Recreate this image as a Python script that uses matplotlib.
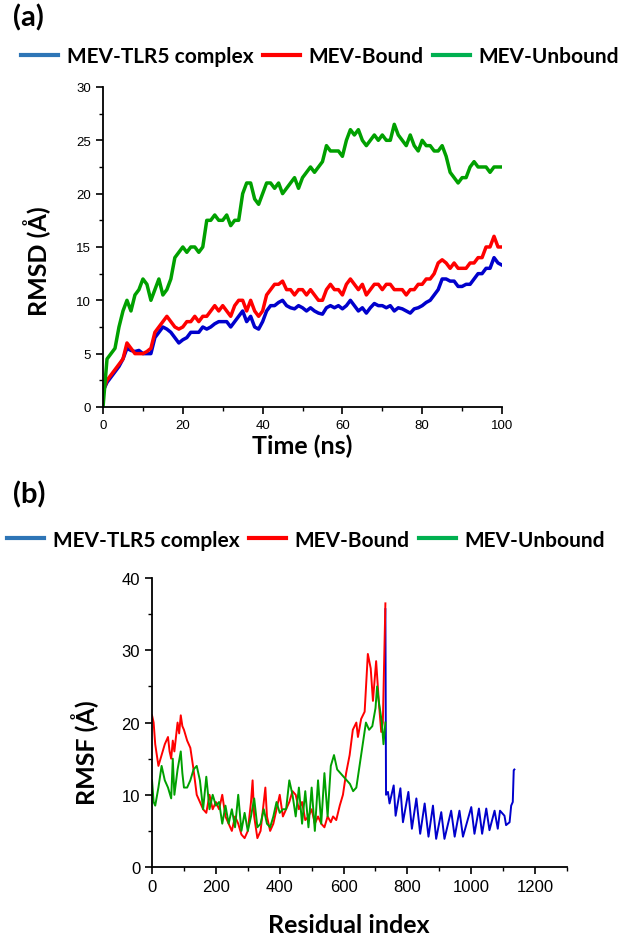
import matplotlib
matplotlib.use('Agg')
import matplotlib.pyplot as plt
from matplotlib.lines import Line2D
from matplotlib.ticker import MultipleLocator

# ---- (a) RMSD, 1 ns steps ----
time_ns = list(range(0, 101))
rmsd_complex = [1.5, 2.3, 2.8, 3.3, 3.8, 4.5, 5.5, 5.3, 5.2, 5.3,
                5.0, 5.0, 5.0, 6.5, 7.0, 7.5, 7.3, 7.0, 6.5, 6.0,
                6.3, 6.5, 7.0, 7.0, 7.0, 7.5, 7.3, 7.5, 7.8, 8.0,
                8.0, 8.0, 7.5, 8.0, 8.5, 9.0, 8.0, 8.5, 7.5, 7.3,
                8.0, 9.0, 9.5, 9.5, 9.8, 10.0, 9.5, 9.3, 9.2, 9.5,
                9.3, 9.0, 9.3, 9.0, 8.8, 8.7, 9.3, 9.5, 9.3, 9.5,
                9.2, 9.5, 10.0, 9.5, 9.0, 9.3, 8.8, 9.3, 9.7, 9.5,
                9.5, 9.3, 9.5, 9.0, 9.3, 9.2, 9.0, 8.8, 9.2, 9.3,
                9.5, 9.8, 10.0, 10.5, 11.0, 12.0, 12.0, 11.8, 11.8, 11.3,
                11.3, 11.5, 11.5, 12.0, 12.5, 12.5, 13.0, 13.0, 14.0, 13.5,
                13.3]
rmsd_bound = [1.5, 2.5, 3.0, 3.5, 4.0, 4.5, 6.0, 5.5, 5.0, 5.0,
              5.0, 5.2, 5.5, 7.0, 7.5, 8.0, 8.5, 8.0, 7.5, 7.3,
              7.5, 8.0, 8.0, 8.5, 8.0, 8.5, 8.5, 9.0, 9.5, 9.0,
              9.5, 9.0, 8.5, 9.5, 10.0, 10.0, 9.0, 10.0, 9.0, 8.5,
              9.0, 10.5, 11.0, 11.5, 11.5, 11.8, 11.0, 11.0, 10.5, 11.0,
              11.0, 10.5, 11.0, 10.5, 10.0, 10.0, 11.0, 11.5, 11.0, 11.0,
              10.5, 11.5, 12.0, 11.5, 11.0, 11.5, 10.5, 11.0, 11.5, 11.5,
              11.0, 11.5, 11.5, 11.0, 11.0, 11.0, 10.5, 11.0, 11.0, 11.5,
              11.5, 12.0, 12.0, 12.5, 13.5, 13.8, 13.5, 13.0, 13.5, 13.0,
              13.0, 13.0, 13.5, 13.5, 14.0, 14.0, 15.0, 15.0, 16.0, 15.0,
              15.0]
rmsd_unbound = [0.0, 4.5, 5.0, 5.5, 7.5, 9.0, 10.0, 9.0, 10.5, 11.0,
                12.0, 11.5, 10.0, 11.0, 12.0, 10.5, 11.0, 12.0, 14.0, 14.5,
                15.0, 14.5, 15.0, 15.0, 14.5, 15.0, 17.5, 17.5, 18.0, 17.5,
                17.5, 18.0, 17.0, 17.5, 17.5, 20.0, 21.0, 21.0, 19.5, 19.0,
                20.0, 21.0, 21.0, 20.5, 21.0, 20.0, 20.5, 21.0, 21.5, 20.5,
                21.5, 22.0, 22.5, 22.0, 22.5, 23.0, 24.5, 24.0, 24.0, 24.0,
                23.5, 25.0, 26.0, 25.5, 26.0, 25.0, 24.5, 25.0, 25.5, 25.0,
                25.5, 25.0, 25.0, 26.5, 25.5, 25.0, 24.5, 25.5, 24.5, 24.0,
                25.0, 24.5, 24.5, 24.0, 24.0, 24.5, 23.5, 22.0, 21.5, 21.0,
                21.5, 21.5, 22.5, 23.0, 22.5, 22.5, 22.5, 22.0, 22.5, 22.5,
                22.5]

# ---- (b) RMSF ----
res_bound = [0, 5, 10, 20, 30, 40, 50, 55, 60, 65, 70, 75, 80, 85, 90, 95, 100,
             110, 120, 130, 140, 150, 160, 170, 180, 190, 200, 210, 220, 230,
             240, 250, 260, 270, 280, 290, 300, 310, 315, 320, 330, 340, 350,
             355, 360, 370, 380, 390, 400, 410, 420, 430, 440, 450, 460, 470,
             480, 490, 500, 510, 520, 530, 540, 550, 560, 567, 577, 588, 598,
             608, 619, 629, 640, 645, 655, 666, 676, 685, 692, 702, 711, 718,
             723, 731]
rmsf_bound = [21.0, 20.0, 17.0, 14.0, 15.5, 17.0, 18.0, 16.0, 15.0, 17.5, 16.0,
              18.0, 20.0, 18.5, 21.0, 19.5, 19.0, 17.5, 16.5, 13.5, 10.0, 9.0,
              8.0, 7.5, 10.0, 8.0, 9.0, 8.0, 10.0, 7.0, 6.0, 5.0, 7.0, 6.0, 4.5,
              4.0, 5.0, 9.0, 12.0, 7.0, 4.0, 5.0, 9.0, 11.0, 7.0, 5.0, 6.0, 8.0,
              10.0, 7.0, 8.0, 9.0, 10.5, 10.0, 8.0, 9.0, 6.5, 7.0, 8.0, 6.0, 7.0,
              6.0, 5.5, 7.0, 6.2, 7.0, 6.5, 8.5, 10.0, 13.0, 15.5, 19.0, 20.0,
              18.0, 20.5, 21.5, 29.5, 27.5, 23.0, 28.5, 22.5, 18.7, 20.0, 36.5]
res_unbound = [0, 5, 10, 20, 30, 40, 50, 60, 65, 70, 80, 90, 95, 100, 110, 120,
               130, 140, 150, 160, 170, 180, 190, 200, 210, 220, 230, 240, 250,
               260, 270, 280, 290, 300, 310, 320, 330, 340, 350, 360, 370, 380,
               390, 400, 410, 420, 430, 440, 450, 460, 470, 480, 490, 500, 510,
               520, 530, 540, 550, 560, 570, 580, 590, 600, 610, 620, 630, 640,
               650, 660, 670, 680, 690, 700, 705, 710, 720, 725, 731]
rmsf_unbound = [12.0, 9.0, 8.5, 11.0, 14.0, 12.0, 11.0, 9.5, 15.0, 10.0, 13.5,
                16.0, 13.0, 11.0, 11.0, 12.0, 13.5, 14.0, 12.0, 8.0, 12.5, 8.0,
                10.0, 8.5, 9.0, 6.0, 8.5, 6.0, 8.0, 5.5, 10.0, 5.0, 7.5, 5.0,
                7.0, 9.5, 5.5, 6.0, 8.0, 6.0, 5.5, 7.0, 9.0, 7.5, 8.0, 8.0, 12.0,
                10.0, 7.0, 11.0, 6.0, 10.5, 5.5, 11.0, 5.0, 12.0, 6.0, 13.0, 7.0,
                14.0, 15.5, 13.5, 13.0, 12.5, 12.0, 11.5, 10.5, 11.0, 14.0, 17.0,
                20.0, 19.0, 19.5, 22.0, 25.0, 23.0, 20.0, 17.0, 20.0]
res_complex = [731, 733, 739, 744, 757, 763, 778, 786, 803, 814, 828, 840, 854,
               866, 880, 890, 906, 916, 937, 948, 963, 974, 1000, 1010, 1024,
               1034, 1047, 1057, 1073, 1083, 1090, 1104, 1109, 1120, 1125, 1130,
               1133, 1135]
rmsf_complex = [35.7, 10.0, 10.4, 8.8, 11.3, 7.1, 10.9, 6.2, 10.4, 5.3, 9.5,
                4.6, 8.8, 4.2, 8.5, 3.9, 7.6, 3.9, 7.8, 4.2, 7.8, 4.2, 8.3, 4.6,
                8.1, 4.6, 8.1, 5.1, 7.8, 5.3, 7.8, 7.1, 5.8, 6.2, 8.5, 9.0, 13.4,
                13.5]

labels = ["MEV-TLR5 complex", "MEV-Bound", "MEV-Unbound"]
line_colors = ["#0000CC", "#FF0000", "#00A000"]
legend_colors = ["#2E75B6", "#FF0000", "#00B050"]

label_font = "Lato"
tick_font = "Liberation Sans"

fig = plt.figure(figsize=(6.29, 9.37), dpi=100)

def style_axes(ax, tick_size):
    for side in ["top", "right"]:
        ax.spines[side].set_visible(False)
    for side in ["left", "bottom"]:
        ax.spines[side].set_linewidth(1.3)
    ax.tick_params(which="major", direction="out", length=5, width=1.2,
                   labelsize=tick_size)
    ax.tick_params(which="minor", direction="out", length=3, width=1.0)
    for lab in ax.get_xticklabels() + ax.get_yticklabels():
        lab.set_fontfamily(tick_font)

# Panel (a)
ax1 = fig.add_axes([0.1638, 0.5646, 0.6343, 0.3415])
ax1.plot(time_ns, rmsd_complex, color=line_colors[0], lw=2.5)
ax1.plot(time_ns, rmsd_bound, color=line_colors[1], lw=2.5)
ax1.plot(time_ns, rmsd_unbound, color=line_colors[2], lw=2.5)
ax1.set_xlim(0, 100)
ax1.set_ylim(0, 30)
ax1.xaxis.set_major_locator(MultipleLocator(20))
ax1.xaxis.set_minor_locator(MultipleLocator(10))
ax1.yaxis.set_major_locator(MultipleLocator(5))
ax1.yaxis.set_minor_locator(MultipleLocator(2.5))
style_axes(ax1, 9.5)
ax1.set_xlabel("Time (ns)", fontsize=18, fontweight="bold", family=label_font,
               va="center")
ax1.set_ylabel("RMSD (Å)", fontsize=18, fontweight="bold", family=label_font,
               va="center")
ax1.xaxis.set_label_coords(0.5, -0.12)
ax1.yaxis.set_label_coords(-0.165, 0.46)

# Panel (b)
ax2 = fig.add_axes([0.2417, 0.0736, 0.6598, 0.3084])
ax2.plot(res_complex, rmsf_complex, color=line_colors[0], lw=1.4)
ax2.plot(res_bound, rmsf_bound, color=line_colors[1], lw=1.4)
ax2.plot(res_unbound, rmsf_unbound, color=line_colors[2], lw=1.4)
ax2.set_xlim(0, 1300)
ax2.set_ylim(0, 40)
ax2.xaxis.set_major_locator(MultipleLocator(200))
ax2.xaxis.set_minor_locator(MultipleLocator(100))
ax2.yaxis.set_major_locator(MultipleLocator(10))
ax2.yaxis.set_minor_locator(MultipleLocator(5))
style_axes(ax2, 12)
ax2.set_xlabel("Residual index", fontsize=18, fontweight="bold",
               family=label_font, va="center")
ax2.set_ylabel("RMSF (Å)", fontsize=18, fontweight="bold", family=label_font,
               va="center")
ax2.xaxis.set_label_coords(0.475, -0.2)
ax2.yaxis.set_label_coords(-0.161, 0.40)

# Panel letters
fig.text(0.02, 0.981, "(a)", fontsize=21, fontweight="bold", family=label_font,
         va="center", ha="left")
fig.text(0.02, 0.472, "(b)", fontsize=21, fontweight="bold", family=label_font,
         va="center", ha="left")

# Legends
handles = [Line2D([], [], color=c, lw=3) for c in legend_colors]
legend_kw = dict(loc="center left", ncol=3, frameon=False, handlelength=1.8,
                 handletextpad=0.4, columnspacing=0.45, borderaxespad=0,
                 borderpad=0,
                 prop={"family": label_font, "weight": "bold", "size": 15.0})
fig.legend(handles, labels, bbox_to_anchor=(0.033, 0.939), **legend_kw)
fig.legend(handles, labels, bbox_to_anchor=(0.011, 0.423), **legend_kw)

plt.savefig("out.png", dpi=100)
plt.close()
